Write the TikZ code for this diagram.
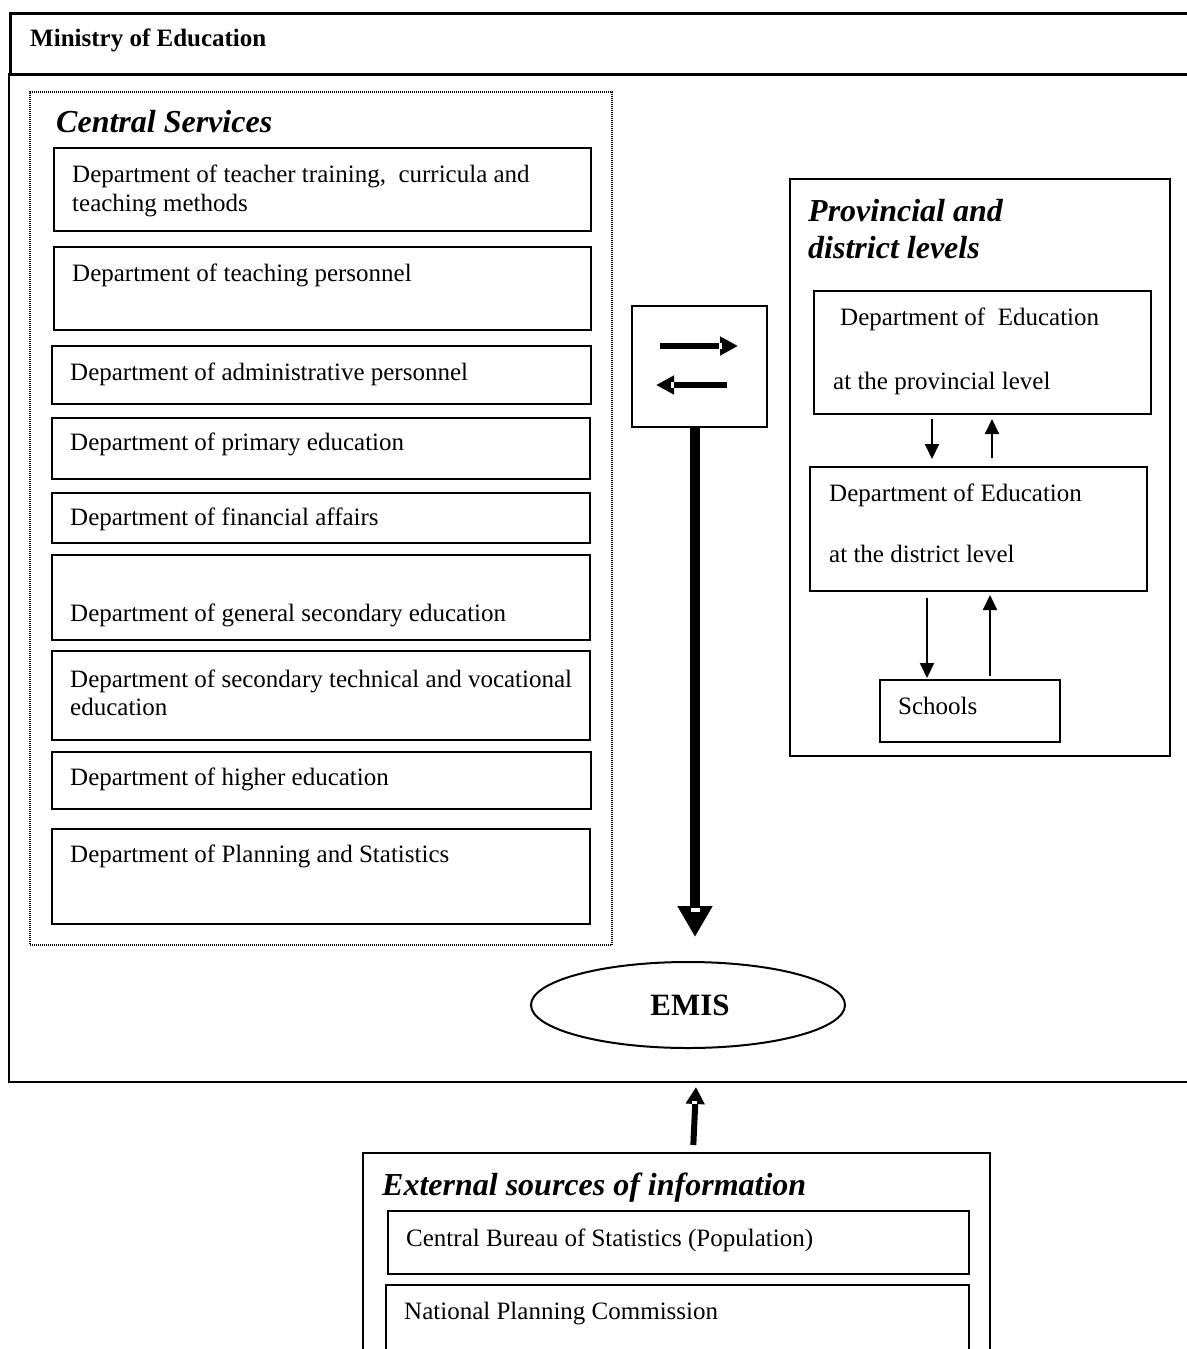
\documentclass[tikz,border=0pt]{standalone}
\usepackage{fontspec}
\setmainfont{Liberation Serif}
\usetikzlibrary{arrows.meta,fit,shapes.geometric}

% rectangle node spanning two corner points
\newcommand{\rectnode}[6][box]{\node[#1, fit={(#3,#4) (#5,#6)}] (#2) {};}

\begin{document}
\begin{tikzpicture}[x=1pt,y=-1pt,
  box/.style={draw, line width=2pt, inner sep=0pt},
  frame/.style={draw, line width=3pt, inner sep=0pt},
  body/.style={draw, line width=1.8pt, inner sep=0pt},
  dottedbox/.style={draw, line width=2pt, dash pattern=on 1pt off 1pt, inner sep=0pt},
  txt/.style={font=\fontsize{25}{30}\selectfont, inner sep=0pt, anchor=base west},
  headtxt/.style={font=\fontsize{25}{30}\selectfont\bfseries, inner sep=0pt, anchor=base west},
  grouptitle/.style={font=\fontsize{32}{38}\selectfont\bfseries\itshape, inner sep=0pt, anchor=base west},
  bigarrow/.style={line width=10pt, -{Triangle[length=31pt, width=33pt]}},
  swaparrow/.style={line width=6.5pt, -{Triangle[length=18pt, width=18pt]}},
  midarrow/.style={line width=6pt, -{Triangle[length=17pt, width=18pt]}},
  thinarrow/.style={line width=2pt, -{Triangle[length=15pt, width=14pt]}}
]
\useasboundingbox (0,0) rectangle (1186,1349);

% Ministry of Education frame
\rectnode[body]{ministry}{9}{74}{1215}{1082}
\rectnode[frame]{minhead}{10}{13}{1215}{74}
\node[headtxt] (mintitle) at (30,46) {Ministry of Education};

% Central services
\rectnode[dottedbox]{central}{30}{92}{612}{945}
\node[grouptitle] (centraltitle) at (56,132) {Central Services};

\rectnode{d1}{54}{148}{591}{231}
\rectnode{d2}{54}{247}{591}{330}
\rectnode{d3}{52}{346}{591}{404}
\rectnode{d4}{52}{418}{590}{479}
\rectnode{d5}{52}{493}{590}{543}
\rectnode{d6}{52}{555}{590}{640}
\rectnode{d7}{52}{651}{590}{740}
\rectnode{d8}{52}{752}{591}{809}
\rectnode{d9}{52}{829}{590}{924}

\node[txt] (t1a) at (72,182) {Department of teacher training,\ \ curricula and};
\node[txt] (t1b) at (72,211) {teaching methods};
\node[txt] (t2) at (72,281) {Department of teaching personnel};
\node[txt] (t3) at (70,380) {Department of administrative personnel};
\node[txt] (t4) at (70,450) {Department of primary education};
\node[txt] (t5) at (70,525) {Department of financial affairs};
\node[txt] (t6) at (70,621) {Department of general secondary education};
\node[txt] (t7a) at (70,687) {Department of secondary technical and vocational};
\node[txt] (t7b) at (70,715) {education};
\node[txt] (t8) at (70,785) {Department of higher education};
\node[txt] (t9) at (70,862) {Department of Planning and Statistics};

% exchange box
\rectnode{swap}{632}{306}{767}{427}
\coordinate (swapR1) at (660,346);
\coordinate (swapR2) at (738,346);
\coordinate (swapL1) at (727,385);
\coordinate (swapL2) at (656,385);
\draw[swaparrow] (swapR1) -- (swapR2);
\draw[swaparrow] (swapL1) -- (swapL2);
\fill[white] (719,343) rectangle (721.5,349);
\fill[white] (671,382) rectangle (673.5,388);

% EMIS
\node[draw, ellipse, line width=2pt, minimum width=314pt, minimum height=86pt, inner sep=0pt,
      font=\fontsize{31}{36}\selectfont\bfseries] (emis) at (688,1005) {\hspace*{4pt}EMIS};

\draw[bigarrow] ([xshift=-4.5pt]swap.south) -- ([xshift=-4.5pt, yshift=24pt]swap.south |- emis.north);
\fill[white] (690.5,908) rectangle (699.5,911.5);

% provincial and district levels
\rectnode{prov}{790}{179}{1170}{756}
\node[grouptitle] (provtitle1) at (808,221) {Provincial and};
\node[grouptitle] (provtitle2) at (808,258) {district levels};

\rectnode{provdep}{814}{291}{1151}{414}
\node[txt] (pt1) at (840,325) {Department of\ \ Education};
\node[txt] (pt2) at (833,389) {at the provincial level};

\rectnode{distdep}{810}{467}{1147}{591}
\node[txt] (dt1) at (829,501) {Department of Education};
\node[txt] (dt2) at (829,562) {at the district level};

\rectnode{schools}{880}{680}{1060}{742}
\node[txt] (st) at (898,714) {Schools};

\draw[thinarrow, shorten <=4pt, shorten >=7pt] (provdep.south -| 932,0) -- (distdep.north -| 932,0);
\draw[thinarrow, shorten <=8pt, shorten >=4pt] (distdep.north -| 992,0) -- (provdep.south -| 992,0);
\draw[thinarrow, shorten <=6pt, shorten >=1pt] (distdep.south -| 927,0) -- (schools.north -| 927,0);
\draw[thinarrow, shorten <=3pt, shorten >=3pt] (schools.north -| 990,0) -- (distdep.south -| 990,0);

% external sources
\rectnode{ext}{363}{1153}{990}{1420}
\node[grouptitle] (exttitle) at (382,1195) {External sources of information};
\rectnode{cbs}{388}{1211}{969}{1274}
\node[txt] (cbst) at (406,1246) {Central Bureau of Statistics (Population)};
\rectnode{npc}{386}{1285}{969}{1420}
\node[txt] (npct) at (404,1319) {National Planning Commission};

\coordinate (emisin) at (696,1087);
\draw[midarrow, shorten <=7pt] (ext.north -| 693,0) -- (emisin);
\fill[white] (692,1101) rectangle (697,1104);
\end{tikzpicture}
\end{document}
